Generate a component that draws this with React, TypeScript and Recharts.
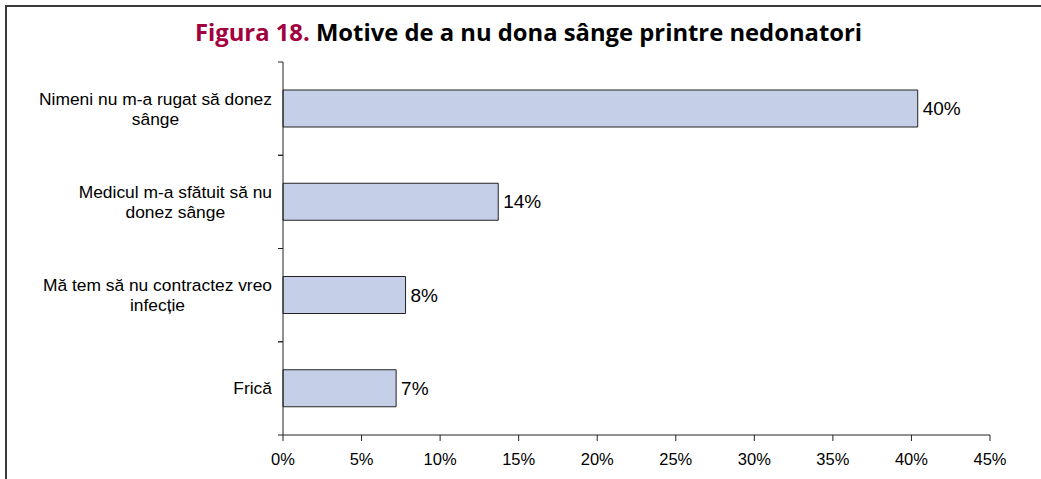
import React from 'react';
import { BarChart, Bar, XAxis, YAxis, LabelList } from 'recharts';

const reasons = [
  'Nimeni nu m-a rugat să donez\nsânge',
  'Medicul m-a sfătuit să nu\ndonez sânge',
  'Mă tem să nu contractez vreo\ninfecție',
  'Frică',
];
const shares = [40.4, 13.7, 7.8, 7.2];
const xTicks = [0, 5, 10, 15, 20, 25, 30, 35, 40, 45];

const data = reasons.map((reason, i) => ({ reason, share: shares[i] }));

const W = 1041;
const H = 479;
const PLOT_TOP = 62;
const PLOT_BOTTOM = 435;
const band = (PLOT_BOTTOM - PLOT_TOP) / reasons.length;
const FONT = 'Liberation Sans, Arial, sans-serif';

const ReasonTick = (props: any) => {
  const { x, y, payload } = props;
  return (
    <g>
      <line x1={x - 5} x2={x} y1={y - band / 2} y2={y - band / 2} stroke="#222" />
      <line x1={x - 5} x2={x} y1={y + band / 2} y2={y + band / 2} stroke="#222" />
      <foreignObject x={x - 275} y={y - 30} width={264} height={60}>
        <div
          style={{
            width: '100%',
            height: '100%',
            display: 'flex',
            alignItems: 'center',
            justifyContent: 'flex-end',
          }}
        >
          <div
            style={{
              textAlign: 'center',
              whiteSpace: 'pre-line',
              fontFamily: FONT,
              fontSize: 17.4,
              lineHeight: '20px',
              color: '#000',
            }}
          >
            {payload.value}
          </div>
        </div>
      </foreignObject>
    </g>
  );
};

export default function App() {
  return (
    <div style={{ position: 'absolute', left: 0, top: 0, width: W, height: H, background: '#fff' }}>
      <div
        style={{
          position: 'absolute',
          left: 5,
          top: 5,
          width: W - 5,
          height: H - 5,
          borderTop: '2px solid #3a3a3a',
          borderLeft: '2px solid #3a3a3a',
        }}
      />
      <div
        style={{
          position: 'absolute',
          left: 0,
          width: W,
          top: 17,
          textAlign: 'center',
          fontFamily: 'Open Sans, sans-serif',
          fontWeight: 700,
          fontSize: 23.8,
          lineHeight: '30px',
          color: '#000',
          paddingLeft: 8,
        }}
      >
        <span style={{ color: '#a3003f' }}>Figura 18.</span> Motive de a nu dona sânge printre nedonatori
      </div>
      <div style={{ position: 'absolute', left: 0, top: 0 }}>
        <BarChart
          width={W}
          height={H}
          data={data}
          layout="vertical"
          margin={{ top: PLOT_TOP, right: 51, bottom: 14, left: 8 }}
          barSize={37}
        >
          <XAxis
            type="number"
            domain={[0, 45]}
            ticks={xTicks}
            tickFormatter={(v: number) => `${v}%`}
            axisLine={{ stroke: '#222' }}
            tickLine={{ stroke: '#222' }}
            tickSize={6}
            tickMargin={12}
            height={30}
            tick={{ fill: '#000', fontSize: 16.5, fontFamily: FONT }}
            interval={0}
          />
          <YAxis
            type="category"
            dataKey="reason"
            width={275}
            axisLine={{ stroke: '#222' }}
            tickLine={false}
            tickSize={0}
            tickMargin={0}
            tick={<ReasonTick />}
            interval={0}
          />
          <Bar dataKey="share" fill="#c5d0e8" stroke="#222" strokeWidth={1} isAnimationActive={false}>
            <LabelList
              dataKey="share"
              position="right"
              offset={5}
              formatter={(v: any) => `${Math.round(Number(v))}%`}
              style={{ fill: '#000', fontSize: 19, fontFamily: FONT }}
            />
          </Bar>
        </BarChart>
      </div>
    </div>
  );
}
